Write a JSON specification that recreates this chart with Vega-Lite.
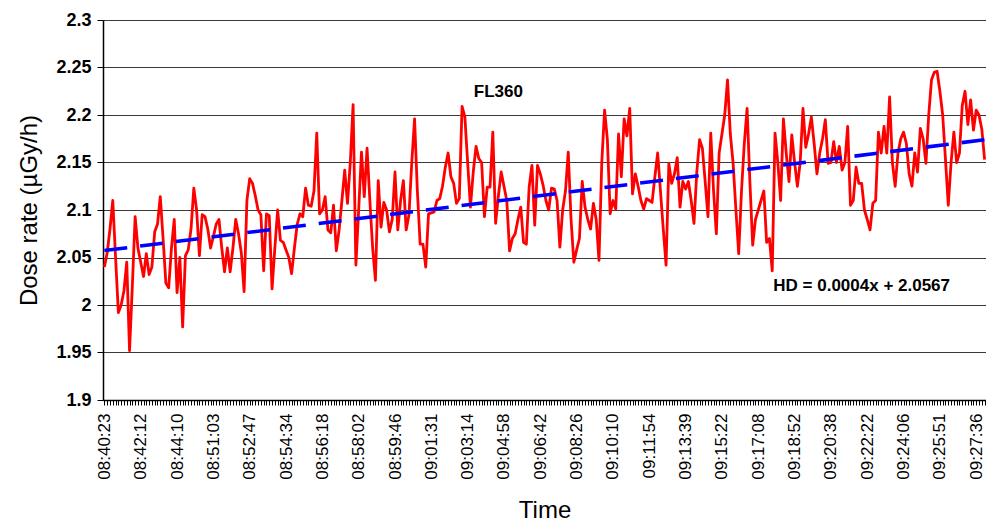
{
  "$schema": "https://vega.github.io/schema/vega-lite/v6.json",
  "width": 883,
  "height": 380,
  "autosize": {"type": "none"},
  "padding": {"left": 103, "top": 20, "right": 0, "bottom": 125},
  "background": "white",
  "config": {"view": {"stroke": null}, "font": "Liberation Sans"},
  "datasets": {
    "dose": [
      {"i":0,"v":2.040},{"i":1,"v":2.055},{"i":2,"v":2.080},{"i":3,"v":2.110},{"i":4,"v":2.050},{"i":5,"v":1.992},{"i":6,"v":2.000},{"i":7,"v":2.015},{"i":8,"v":2.045},{"i":9,"v":1.952},
      {"i":10,"v":2.020},{"i":11,"v":2.093},{"i":12,"v":2.060},{"i":13,"v":2.045},{"i":14,"v":2.030},{"i":15,"v":2.054},{"i":16,"v":2.032},{"i":17,"v":2.040},{"i":18,"v":2.077},{"i":19,"v":2.085},
      {"i":20,"v":2.114},{"i":21,"v":2.070},{"i":22,"v":2.023},{"i":23,"v":2.018},{"i":24,"v":2.060},{"i":25,"v":2.090},{"i":26,"v":2.013},{"i":27,"v":2.050},{"i":28,"v":1.977},{"i":29,"v":2.052},
      {"i":30,"v":2.058},{"i":31,"v":2.080},{"i":32,"v":2.123},{"i":33,"v":2.100},{"i":34,"v":2.052},{"i":35,"v":2.095},{"i":36,"v":2.093},{"i":37,"v":2.080},{"i":38,"v":2.060},{"i":39,"v":2.072},
      {"i":40,"v":2.085},{"i":41,"v":2.090},{"i":42,"v":2.060},{"i":43,"v":2.035},{"i":44,"v":2.060},{"i":45,"v":2.035},{"i":46,"v":2.060},{"i":47,"v":2.090},{"i":48,"v":2.075},{"i":49,"v":2.055},
      {"i":50,"v":2.014},{"i":51,"v":2.110},{"i":52,"v":2.133},{"i":53,"v":2.128},{"i":54,"v":2.115},{"i":55,"v":2.100},{"i":56,"v":2.095},{"i":57,"v":2.036},{"i":58,"v":2.096},{"i":59,"v":2.094},
      {"i":60,"v":2.017},{"i":61,"v":2.060},{"i":62,"v":2.100},{"i":63,"v":2.068},{"i":64,"v":2.066},{"i":65,"v":2.058},{"i":66,"v":2.050},{"i":67,"v":2.033},{"i":68,"v":2.060},{"i":69,"v":2.085},
      {"i":70,"v":2.096},{"i":71,"v":2.093},{"i":72,"v":2.123},{"i":73,"v":2.105},{"i":74,"v":2.104},{"i":75,"v":2.120},{"i":76,"v":2.181},{"i":77,"v":2.096},{"i":78,"v":2.100},{"i":79,"v":2.114},
      {"i":80,"v":2.079},{"i":81,"v":2.076},{"i":82,"v":2.105},{"i":83,"v":2.057},{"i":84,"v":2.079},{"i":85,"v":2.110},{"i":86,"v":2.142},{"i":87,"v":2.107},{"i":88,"v":2.150},{"i":89,"v":2.211},
      {"i":90,"v":2.042},{"i":91,"v":2.100},{"i":92,"v":2.161},{"i":93,"v":2.114},{"i":94,"v":2.165},{"i":95,"v":2.110},{"i":96,"v":2.060},{"i":97,"v":2.026},{"i":98,"v":2.131},{"i":99,"v":2.082},
      {"i":100,"v":2.108},{"i":101,"v":2.100},{"i":102,"v":2.077},{"i":103,"v":2.090},{"i":104,"v":2.140},{"i":105,"v":2.079},{"i":106,"v":2.110},{"i":107,"v":2.131},{"i":108,"v":2.079},{"i":109,"v":2.095},
      {"i":110,"v":2.150},{"i":111,"v":2.196},{"i":112,"v":2.120},{"i":113,"v":2.064},{"i":114,"v":2.064},{"i":115,"v":2.040},{"i":116,"v":2.096},{"i":117,"v":2.097},{"i":118,"v":2.098},{"i":119,"v":2.110},
      {"i":120,"v":2.112},{"i":121,"v":2.125},{"i":122,"v":2.145},{"i":123,"v":2.160},{"i":124,"v":2.135},{"i":125,"v":2.128},{"i":126,"v":2.107},{"i":127,"v":2.112},{"i":128,"v":2.209},{"i":129,"v":2.198},
      {"i":130,"v":2.150},{"i":131,"v":2.103},{"i":132,"v":2.140},{"i":133,"v":2.167},{"i":134,"v":2.154},{"i":135,"v":2.150},{"i":136,"v":2.093},{"i":137,"v":2.124},{"i":138,"v":2.124},{"i":139,"v":2.182},
      {"i":140,"v":2.086},{"i":141,"v":2.115},{"i":142,"v":2.140},{"i":143,"v":2.125},{"i":144,"v":2.110},{"i":145,"v":2.057},{"i":146,"v":2.070},{"i":147,"v":2.075},{"i":148,"v":2.090},{"i":149,"v":2.103},
      {"i":150,"v":2.066},{"i":151,"v":2.064},{"i":152,"v":2.124},{"i":153,"v":2.147},{"i":154,"v":2.084},{"i":155,"v":2.147},{"i":156,"v":2.138},{"i":157,"v":2.126},{"i":158,"v":2.110},{"i":159,"v":2.100},
      {"i":160,"v":2.123},{"i":161,"v":2.122},{"i":162,"v":2.110},{"i":163,"v":2.061},{"i":164,"v":2.100},{"i":165,"v":2.120},{"i":166,"v":2.161},{"i":167,"v":2.090},{"i":168,"v":2.045},{"i":169,"v":2.058},
      {"i":170,"v":2.070},{"i":171,"v":2.130},{"i":172,"v":2.103},{"i":173,"v":2.090},{"i":174,"v":2.080},{"i":175,"v":2.107},{"i":176,"v":2.090},{"i":177,"v":2.047},{"i":178,"v":2.150},{"i":179,"v":2.205},
      {"i":180,"v":2.174},{"i":181,"v":2.096},{"i":182,"v":2.110},{"i":183,"v":2.101},{"i":184,"v":2.180},{"i":185,"v":2.135},{"i":186,"v":2.196},{"i":187,"v":2.178},{"i":188,"v":2.207},{"i":189,"v":2.117},
      {"i":190,"v":2.138},{"i":191,"v":2.125},{"i":192,"v":2.110},{"i":193,"v":2.101},{"i":194,"v":2.112},{"i":195,"v":2.110},{"i":196,"v":2.108},{"i":197,"v":2.135},{"i":198,"v":2.160},{"i":199,"v":2.120},
      {"i":200,"v":2.080},{"i":201,"v":2.042},{"i":202,"v":2.149},{"i":203,"v":2.128},{"i":204,"v":2.138},{"i":205,"v":2.155},{"i":206,"v":2.103},{"i":207,"v":2.130},{"i":208,"v":2.122},{"i":209,"v":2.130},
      {"i":210,"v":2.110},{"i":211,"v":2.086},{"i":212,"v":2.140},{"i":213,"v":2.174},{"i":214,"v":2.165},{"i":215,"v":2.130},{"i":216,"v":2.093},{"i":217,"v":2.181},{"i":218,"v":2.120},{"i":219,"v":2.075},
      {"i":220,"v":2.160},{"i":221,"v":2.180},{"i":222,"v":2.200},{"i":223,"v":2.237},{"i":224,"v":2.180},{"i":225,"v":2.149},{"i":226,"v":2.100},{"i":227,"v":2.054},{"i":228,"v":2.120},{"i":229,"v":2.170},
      {"i":230,"v":2.207},{"i":231,"v":2.130},{"i":232,"v":2.063},{"i":233,"v":2.090},{"i":234,"v":2.100},{"i":235,"v":2.110},{"i":236,"v":2.120},{"i":237,"v":2.066},{"i":238,"v":2.070},{"i":239,"v":2.036},
      {"i":240,"v":2.181},{"i":241,"v":2.150},{"i":242,"v":2.110},{"i":243,"v":2.196},{"i":244,"v":2.160},{"i":245,"v":2.130},{"i":246,"v":2.179},{"i":247,"v":2.150},{"i":248,"v":2.125},{"i":249,"v":2.150},
      {"i":250,"v":2.207},{"i":251,"v":2.166},{"i":252,"v":2.180},{"i":253,"v":2.198},{"i":254,"v":2.170},{"i":255,"v":2.138},{"i":256,"v":2.160},{"i":257,"v":2.175},{"i":258,"v":2.195},{"i":259,"v":2.149},
      {"i":260,"v":2.150},{"i":261,"v":2.172},{"i":262,"v":2.150},{"i":263,"v":2.167},{"i":264,"v":2.142},{"i":265,"v":2.150},{"i":266,"v":2.188},{"i":267,"v":2.105},{"i":268,"v":2.110},{"i":269,"v":2.145},
      {"i":270,"v":2.128},{"i":271,"v":2.128},{"i":272,"v":2.100},{"i":273,"v":2.090},{"i":274,"v":2.079},{"i":275,"v":2.107},{"i":276,"v":2.110},{"i":277,"v":2.182},{"i":278,"v":2.160},{"i":279,"v":2.188},
      {"i":280,"v":2.160},{"i":281,"v":2.219},{"i":282,"v":2.150},{"i":283,"v":2.125},{"i":284,"v":2.160},{"i":285,"v":2.175},{"i":286,"v":2.182},{"i":287,"v":2.170},{"i":288,"v":2.138},{"i":289,"v":2.125},
      {"i":290,"v":2.160},{"i":291,"v":2.140},{"i":292,"v":2.186},{"i":293,"v":2.175},{"i":294,"v":2.149},{"i":295,"v":2.200},{"i":296,"v":2.237},{"i":297,"v":2.245},{"i":298,"v":2.246},{"i":299,"v":2.225},
      {"i":300,"v":2.200},{"i":301,"v":2.153},{"i":302,"v":2.105},{"i":303,"v":2.150},{"i":304,"v":2.182},{"i":305,"v":2.150},{"i":306,"v":2.160},{"i":307,"v":2.210},{"i":308,"v":2.225},{"i":309,"v":2.190},
      {"i":310,"v":2.216},{"i":311,"v":2.184},{"i":312,"v":2.205},{"i":313,"v":2.200},{"i":314,"v":2.185},{"i":315,"v":2.153}
    ],
    "trend": [
      {"i":0,"v":2.0573},
      {"i":315,"v":2.1740}
    ],
    "notes": [
      {"i":141,"v":2.224,"label":"FL360"},
      {"i":271,"v":2.0203,"label":"HD = 0.0004x + 2.0567"}
    ]
  },
  "encoding": {
    "x": {
      "field": "i",
      "type": "ordinal",
      "scale": {"type": "point", "padding": 0.5},
      "axis": {
        "title": "Time",
        "titleFont": "Liberation Sans",
        "titleFontSize": 24,
        "titleFontWeight": "normal",
        "titleColor": "#000000",
        "titlePadding": 19,
        "labelAngle": -90,
        "labelFont": "Liberation Sans",
        "labelFontSize": 17,
        "labelColor": "#000000",
        "labelOverlap": false,
        "labelPadding": 8,
        "labelExpr": "(datum.value % 13 == 0 && datum.value <= 312) ? ['08:40:23','08:42:12','08:44:10','08:51:03','08:52:47','08:54:34','08:56:18','08:58:02','08:59:46','09:01:31','09:03:14','09:04:58','09:06:42','09:08:26','09:10:10','09:11:54','09:13:39','09:15:22','09:17:08','09:18:52','09:20:38','09:22:22','09:24:06','09:25:51','09:27:36'][datum.value / 13] : ''",
        "tickSize": 5,
        "tickColor": "#000000",
        "domainColor": "#000000",
        "domainWidth": 1.5,
        "grid": false
      }
    },
    "y": {
      "field": "v",
      "type": "quantitative",
      "scale": {"domain": [1.9, 2.3], "nice": false, "zero": false},
      "axis": {
        "title": "Dose rate (µGy/h)",
        "titleFont": "Liberation Sans",
        "titleFontSize": 24,
        "titleFontWeight": "normal",
        "titleColor": "#000000",
        "titlePadding": 14,
        "values": [1.9, 1.95, 2.0, 2.05, 2.1, 2.15, 2.2, 2.25, 2.3],
        "format": ".2~f",
        "labelFont": "Liberation Sans",
        "labelFontSize": 18,
        "labelFontWeight": "bold",
        "labelColor": "#000000",
        "labelPadding": 6,
        "tickSize": 6,
        "tickColor": "#000000",
        "domainColor": "#000000",
        "domainWidth": 1.5,
        "grid": true,
        "gridColor": "#3a3a3a",
        "gridWidth": 1.2
      }
    }
  },
  "layer": [
    {
      "data": {"name": "dose"},
      "mark": {"type": "line", "color": "#ff0000", "strokeWidth": 2.8, "strokeJoin": "round"}
    },
    {
      "data": {"name": "trend"},
      "mark": {"type": "line", "color": "#0000ff", "strokeWidth": 3.6, "strokeDash": [23, 13]}
    },
    {
      "data": {"name": "notes"},
      "mark": {"type": "text", "font": "Liberation Sans", "fontSize": 17, "fontWeight": "bold", "color": "#000000", "align": "center", "baseline": "middle"},
      "encoding": {"text": {"field": "label"}}
    }
  ]
}
